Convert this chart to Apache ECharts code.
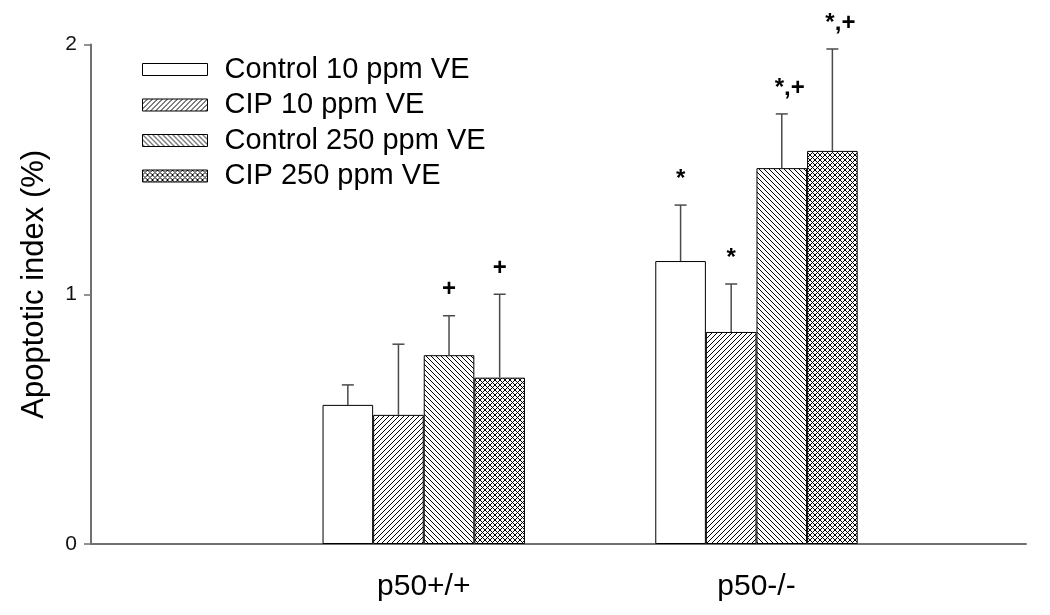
<!DOCTYPE html>
<html>
<head>
<meta charset="utf-8">
<script src="https://cdn.jsdelivr.net/npm/echarts@6/dist/echarts.min.js"></script>
<style>
html,body{margin:0;padding:0;background:#fff;}
#chart{width:1050px;height:615px;}
</style>
</head>
<body>
<div id="chart"></div>
<script>
// ---- data ----
var categories = ['p50+/+', 'p50-/-'];
var categoryPos = [1, 2];
var seriesNames = ['Control 10 ppm VE', 'CIP 10 ppm VE', 'Control 250 ppm VE', 'CIP 250 ppm VE'];
var control10 = [0.557, 1.133];
var cip10 = [0.517, 0.849];
var control250 = [0.756, 1.505];
var cip250 = [0.666, 1.574];
var control10Err = [0.080, 0.224];
var cip10Err = [0.283, 0.192];
var control250Err = [0.158, 0.217];
var cip250Err = [0.334, 0.408];
var control10Mark = ['', '*'];
var cip10Mark = ['', '*'];
var control250Mark = ['+', '*,+'];
var cip250Mark = ['+', '*,+'];
var yTicks = [0, 1, 2];

var values = [control10, cip10, control250, cip250];
var errs = [control10Err, cip10Err, control250Err, cip250Err];
var marks = [control10Mark, cip10Mark, control250Mark, cip250Mark];

var BAR_W = 50.6;

function makePattern(type) {
  var s = 5;
  var c = document.createElement('canvas');
  c.width = s; c.height = s;
  var g = c.getContext('2d');
  g.fillStyle = '#fff';
  g.fillRect(0, 0, s, s);
  g.strokeStyle = '#000';
  g.lineWidth = 1;
  function fwd() {
    g.beginPath();
    g.moveTo(-1, s + 1); g.lineTo(s + 1, -1);
    g.moveTo(-1, 1); g.lineTo(1, -1);
    g.moveTo(s - 1, s + 1); g.lineTo(s + 1, s - 1);
    g.stroke();
  }
  function back() {
    g.beginPath();
    g.moveTo(-1, -1); g.lineTo(s + 1, s + 1);
    g.moveTo(s - 1, -1); g.lineTo(s + 1, 1);
    g.moveTo(-1, s - 1); g.lineTo(1, s + 1);
    g.stroke();
  }
  if (type === 'fwd') fwd();
  if (type === 'back') back();
  if (type === 'cross') { fwd(); back(); }
  return { image: c, repeat: 'repeat' };
}

var fills = ['#ffffff', makePattern('fwd'), makePattern('back'), makePattern('cross')];

var series = [];
for (var i = 0; i < 4; i++) {
  series.push({
    name: seriesNames[i],
    type: 'bar',
    barWidth: BAR_W,
    barGap: '0%',
    itemStyle: { color: fills[i], borderColor: '#000', borderWidth: 1 },
    data: categoryPos.map(function (x, k) { return [x, values[i][k]]; }),
    z: 2
  });
}

var errData = [];
for (var si = 0; si < 4; si++) {
  for (var k = 0; k < categories.length; k++) {
    errData.push([categoryPos[k], values[si][k], values[si][k] + errs[si][k], si, marks[si][k]]);
  }
}

series.push({
  type: 'custom',
  silent: true,
  z: 5,
  data: errData,
  renderItem: function (params, api) {
    var x = api.value(0);
    var si = api.value(3);
    var mark = errData[params.dataIndex][4];
    var base = api.coord([x, api.value(1)]);
    var top = api.coord([x, api.value(2)]);
    var cx = base[0] + (si - 1.5) * BAR_W;
    var st = { stroke: '#4a4a4a', lineWidth: 1.5 };
    var children = [
      { type: 'line', shape: { x1: cx, y1: base[1], x2: cx, y2: top[1] }, style: st },
      { type: 'line', shape: { x1: cx - 6, y1: top[1], x2: cx + 6, y2: top[1] }, style: st }
    ];
    if (mark) {
      children.push({
        type: 'text',
        style: {
          text: mark, x: cx + (mark.length > 1 ? 8 : 0), y: top[1] - 26,
          fill: '#000', font: 'bold 24px "Liberation Sans", Arial, sans-serif',
          align: 'center', verticalAlign: 'middle'
        }
      });
    }
    return { type: 'group', children: children };
  }
});

var chart = echarts.init(document.getElementById('chart'), null, { renderer: 'canvas' });
chart.setOption({
  animation: false,
  backgroundColor: '#fff',
  textStyle: { fontFamily: '"Liberation Sans", Arial, sans-serif' },
  grid: { left: 91, right: 24, top: 44.5, bottom: 71, containLabel: false },
  legend: {
    data: seriesNames,
    orient: 'vertical',
    left: 142,
    top: 55,
    padding: 0,
    icon: 'rect',
    itemWidth: 65,
    itemHeight: 12,
    itemGap: 6.5,
    selectedMode: false,
    textStyle: { fontSize: 29, color: '#000', padding: [0, 0, 0, 12] },
    itemStyle: { borderColor: '#000', borderWidth: 1 }
  },
  xAxis: {
    type: 'value',
    min: 0,
    max: 2.81,
    interval: 1,
    splitLine: { show: false },
    axisTick: { show: false },
    axisLine: { show: true, lineStyle: { color: '#707070', width: 2 } },
    axisLabel: {
      margin: 28,
      fontSize: 30,
      color: '#000',
      formatter: function (v) {
        var idx = categoryPos.indexOf(Math.round(v * 1000) / 1000);
        return idx >= 0 ? categories[idx] : '';
      }
    }
  },
  yAxis: {
    type: 'value',
    min: yTicks[0],
    max: yTicks[yTicks.length - 1],
    interval: 1,
    name: 'Apoptotic index (%)',
    nameLocation: 'middle',
    nameRotate: 90,
    nameGap: 41,
    nameTextStyle: { fontSize: 31, color: '#000', padding: [0, 0, 0, 20] },
    splitLine: { show: false },
    axisLine: { show: true, lineStyle: { color: '#707070', width: 2 } },
    axisTick: { show: true, length: 7, lineStyle: { color: '#707070', width: 1.5 } },
    axisLabel: { fontSize: 21, color: '#111', margin: 14 }
  },
  series: series
});
</script>
</body>
</html>
